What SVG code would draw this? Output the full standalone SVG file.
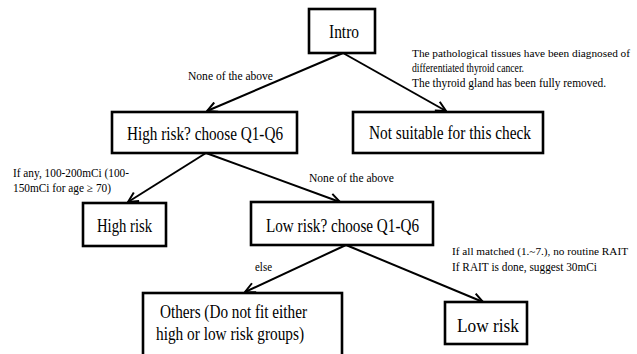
<svg xmlns="http://www.w3.org/2000/svg" width="637" height="354" viewBox="0 0 637 354">
<defs>
<marker id="arr" viewBox="0 0 12 12" refX="11" refY="6" markerWidth="12" markerHeight="12" markerUnits="userSpaceOnUse" orient="auto">
<path d="M1,1 L11,6 L1,11" fill="none" stroke="#000" stroke-width="2"/>
</marker>
<style>
.box{fill:#fff;stroke:#000;stroke-width:2.6}
text{font-family:'Liberation Serif','Times New Roman','DejaVu Serif',serif;fill:#000}
.t{font-size:19px}
.s{font-size:12px}
.n{font-size:11px}
.c{stroke:#000;stroke-width:2;fill:none;marker-end:url(#arr)}
</style>
</defs>
<rect width="637" height="354" fill="#fff"/>
<g id="connectors">
<line class="c" x1="343" y1="53" x2="207" y2="111"/>
<line class="c" x1="343" y1="53" x2="446" y2="111"/>
<line class="c" x1="206" y1="153" x2="128" y2="202"/>
<line class="c" x1="206" y1="153" x2="340" y2="202"/>
<line class="c" x1="346" y1="245" x2="245" y2="292"/>
<line class="c" x1="346" y1="245" x2="483" y2="302"/>
</g>
<g id="labels">
<text class="s" x="188" y="80" textLength="85" lengthAdjust="spacingAndGlyphs">None of the above</text>
<text class="n" x="412" y="57" textLength="218" lengthAdjust="spacingAndGlyphs">The pathological tissues have been diagnosed of</text>
<text class="s" x="412" y="72" textLength="112" lengthAdjust="spacingAndGlyphs">differentiated  thyroid cancer.</text>
<text class="s" x="412" y="87" textLength="194" lengthAdjust="spacingAndGlyphs">The thyroid gland has been fully  removed.</text>
<text class="s" x="13" y="177" textLength="116" lengthAdjust="spacingAndGlyphs">If any, 100-200mCi  (100-</text>
<text class="s" x="13" y="192" textLength="98" lengthAdjust="spacingAndGlyphs">150mCi  for age ≥ 70)</text>
<text class="s" x="309" y="182" textLength="85" lengthAdjust="spacingAndGlyphs">None of the above</text>
<text class="s" x="255" y="271" textLength="17" lengthAdjust="spacingAndGlyphs">else</text>
<text class="n" x="452" y="255" textLength="176" lengthAdjust="spacingAndGlyphs">If all  matched (1.~7.), no routine RAIT</text>
<text class="s" x="452" y="271" textLength="145" lengthAdjust="spacingAndGlyphs">If RAIT is done, suggest 30mCi</text>
</g>
<g id="intro">
<rect class="box" x="309" y="9" width="66" height="44"/>
<text class="t" x="329" y="38" textLength="30" lengthAdjust="spacingAndGlyphs">Intro</text>
</g>
<g id="high-risk-q">
<rect class="box" x="112" y="112" width="185" height="41"/>
<text class="t" x="127" y="140" textLength="156" lengthAdjust="spacingAndGlyphs">High risk? choose Q1-Q6</text>
</g>
<g id="not-suitable">
<rect class="box" x="353" y="112" width="190" height="41"/>
<text class="t" x="369" y="139" textLength="162" lengthAdjust="spacingAndGlyphs">Not suitable for this check</text>
</g>
<g id="high-risk">
<rect class="box" x="83" y="203" width="83" height="43"/>
<text class="t" x="97" y="232" textLength="55" lengthAdjust="spacingAndGlyphs">High risk</text>
</g>
<g id="low-risk-q">
<rect class="box" x="251" y="202" width="182" height="43"/>
<text class="t" x="266" y="232" textLength="153" lengthAdjust="spacingAndGlyphs">Low risk? choose Q1-Q6</text>
</g>
<g id="others">
<rect class="box" x="143" y="293" width="199" height="70"/>
<text class="t" x="160" y="318" textLength="147" lengthAdjust="spacingAndGlyphs">Others (Do not fit either</text>
<text class="t" x="156" y="340" textLength="148" lengthAdjust="spacingAndGlyphs">high or low risk groups)</text>
</g>
<g id="low-risk">
<rect class="box" x="445" y="302" width="82" height="42"/>
<text class="t" x="457" y="332" textLength="62" lengthAdjust="spacingAndGlyphs">Low risk</text>
</g>
</svg>
